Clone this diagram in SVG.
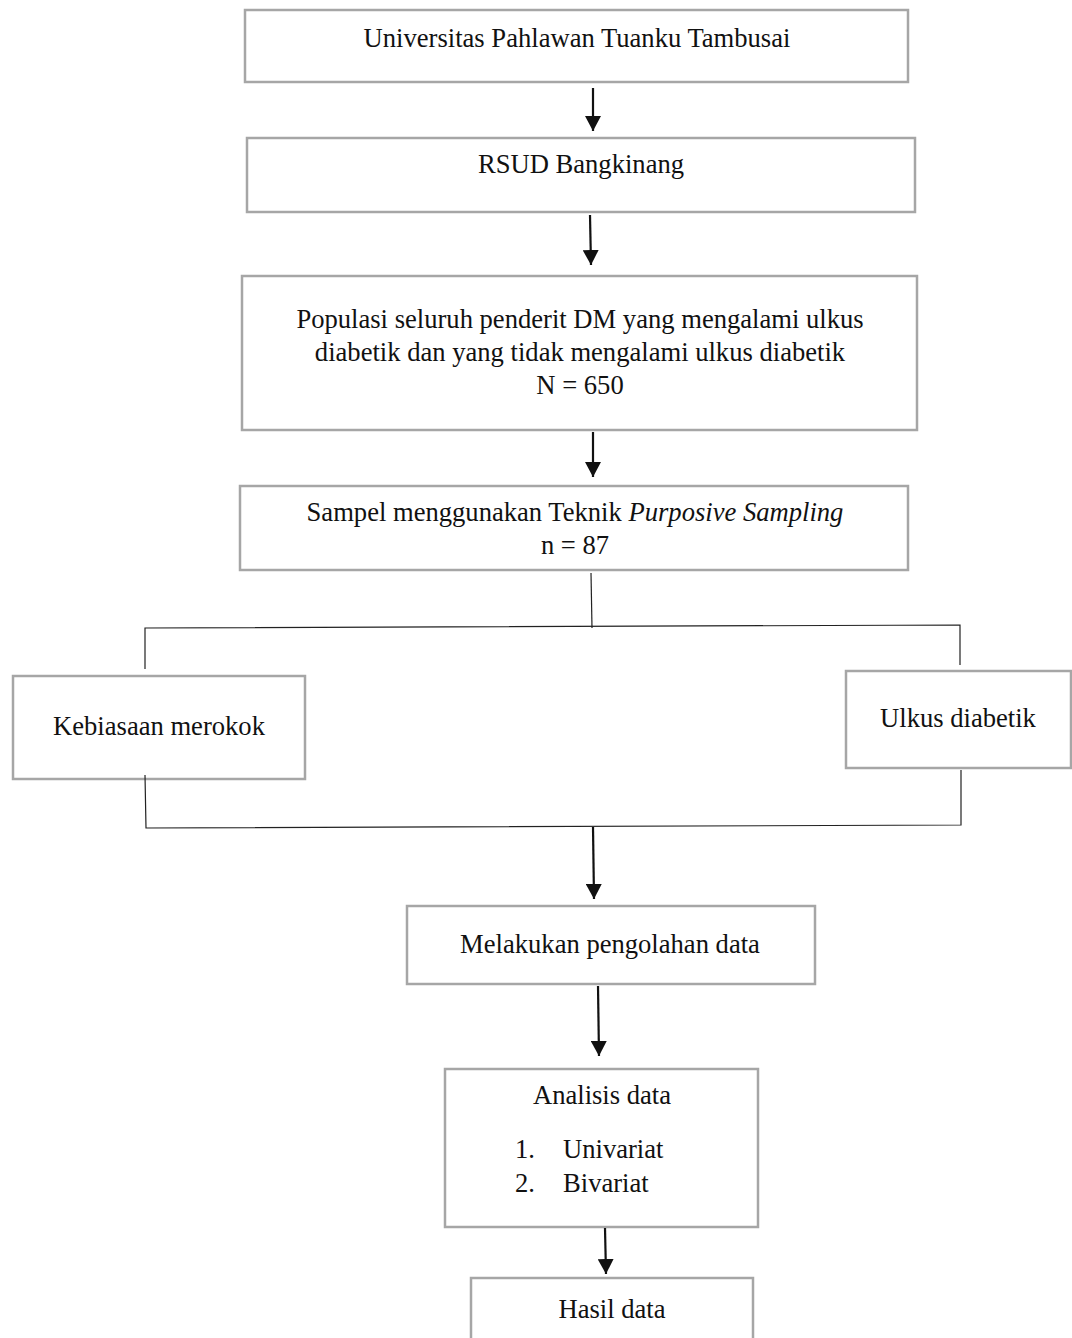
<svg xmlns="http://www.w3.org/2000/svg" width="1072" height="1338" viewBox="0 0 1072 1338">
<style>
.box{fill:#fff;stroke:#a6a6a6;stroke-width:2.5}
.t{font-family:"Liberation Serif","Times New Roman",serif;font-size:26.6px;fill:#111;text-anchor:middle}
.s{text-anchor:start}
.e{text-anchor:end}
.c{stroke:#111;stroke-width:2.2;fill:none}
.l{stroke:#222;stroke-width:1.2;fill:none}
</style>
<defs>
<marker id="ah" markerWidth="15" markerHeight="16" refX="15" refY="8" orient="auto" markerUnits="userSpaceOnUse" viewBox="0 0 15 16">
<path d="M0,0 L15,8 L0,16 Z" fill="#111"/>
</marker>
</defs>
<rect width="1072" height="1338" fill="#fff"/>
<g id="n1"><rect class="box" x="245" y="10" width="663" height="72"/><text class="t" x="577" y="47">Universitas Pahlawan Tuanku Tambusai</text></g>
<g id="n2"><rect class="box" x="247" y="138" width="668" height="74"/><text class="t" x="581" y="173">RSUD Bangkinang</text></g>
<g id="n3"><rect class="box" x="242" y="276" width="675" height="154"/>
<text class="t" x="580" y="328">Populasi seluruh penderit DM yang mengalami ulkus</text>
<text class="t" x="580" y="361">diabetik dan yang tidak mengalami ulkus diabetik</text>
<text class="t" x="580" y="394">N = 650</text></g>
<g id="n4"><rect class="box" x="240" y="486" width="668" height="84"/>
<text class="t" x="575" y="521">Sampel menggunakan Teknik <tspan font-style="italic">Purposive Sampling</tspan></text>
<text class="t" x="575" y="554">n = 87</text></g>
<g id="n5"><rect class="box" x="13" y="676" width="292" height="103"/><text class="t" x="159" y="735">Kebiasaan merokok</text></g>
<g id="n6"><rect class="box" x="846" y="671" width="225" height="97"/><text class="t" x="958" y="727">Ulkus diabetik</text></g>
<g id="n7"><rect class="box" x="407" y="906" width="408" height="78"/><text class="t" x="610" y="953">Melakukan pengolahan data</text></g>
<g id="n8"><rect class="box" x="445" y="1069" width="313" height="158"/>
<text class="t" x="602" y="1104">Analisis data</text>
<text class="t e" x="535" y="1158">1.</text><text class="t s" x="563" y="1158">Univariat</text>
<text class="t e" x="535" y="1192">2.</text><text class="t s" x="563" y="1192">Bivariat</text></g>
<g id="n9"><rect class="box" x="471" y="1278" width="282" height="80"/><text class="t" x="612" y="1318">Hasil data</text></g>
<g id="connectors">
<line class="c" x1="593" y1="88" x2="593" y2="131" marker-end="url(#ah)"/>
<line class="c" x1="590" y1="215" x2="591" y2="265" marker-end="url(#ah)"/>
<line class="c" x1="593" y1="432" x2="593" y2="477" marker-end="url(#ah)"/>
<line class="l" x1="591" y1="573" x2="592" y2="628"/>
<polyline class="l" points="145,669 145,628 960,625 960,665"/>
<polyline class="l" points="145,775 146,828 961,825 961,770"/>
<line class="c" x1="593" y1="827" x2="594" y2="899" marker-end="url(#ah)"/>
<line class="c" x1="598" y1="986" x2="599" y2="1056" marker-end="url(#ah)"/>
<line class="c" x1="605" y1="1228" x2="606" y2="1274" marker-end="url(#ah)"/>
</g>
</svg>
